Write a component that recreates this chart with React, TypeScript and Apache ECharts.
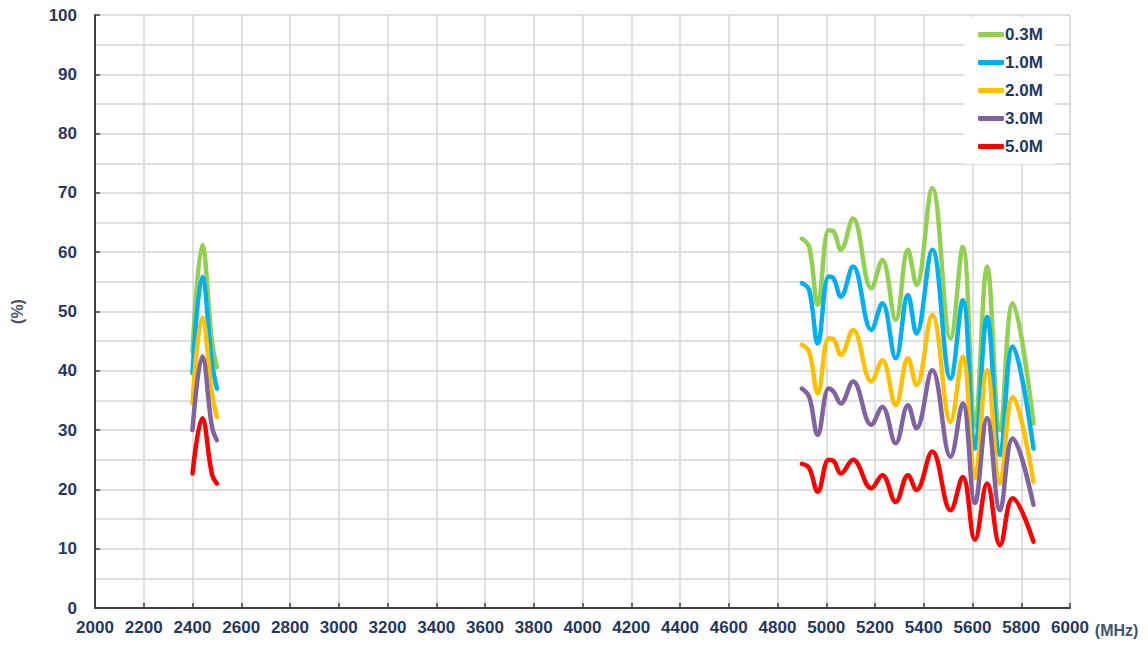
import React, { useEffect, useRef } from "react";
import * as echarts from "echarts";

const seriesNames = ["0.3M", "1.0M", "2.0M", "3.0M", "5.0M"];
const colors = ["#92d050", "#00b0f0", "#ffc000", "#8064a2", "#ff0000"];

const freq24 = [2400, 2440, 2480, 2500];
const green24 = [43.2, 61.2, 45, 40.6];
const blue24 = [39.6, 55.8, 41.3, 37];
const orange24 = [34.5, 49, 36.2, 32.2];
const purple24 = [30, 42.4, 30.5, 28.3];
const red24 = [22.7, 32, 22.5, 21];

const freq5 = [4900, 4930, 4965, 5010, 5030, 5060, 5110, 5185, 5230, 5285, 5335, 5370, 5435, 5510, 5560, 5610, 5660, 5713, 5765, 5850];
const green5 = [62.3, 60.9, 51.1, 63.7, 63.5, 60.4, 65.7, 53.9, 58.7, 48.6, 60.4, 54.5, 70.8, 45.5, 60.9, 30.6, 57.6, 30, 51.4, 31.1];
const blue5 = [54.8, 53.6, 44.6, 55.9, 55.6, 52.5, 57.6, 46.9, 51.4, 42.1, 52.8, 46.3, 60.4, 38.7, 51.9, 26.9, 49.1, 25.8, 44.1, 26.9];
const orange5 = [44.4, 43.2, 36.2, 45.5, 45.3, 42.7, 46.9, 38.2, 41.8, 34.2, 42.1, 37.6, 49.4, 31.4, 42.4, 21.9, 40.1, 21, 35.6, 21.3];
const purple5 = [37, 35.6, 29.2, 37, 36.5, 34.5, 38.2, 30.9, 33.9, 27.8, 34.2, 30.3, 40.1, 25.5, 34.5, 17.7, 32, 16.5, 28.6, 17.4];
const red5 = [24.3, 23.6, 19.6, 25, 24.8, 22.7, 25, 20.2, 22.4, 17.9, 22.4, 19.9, 26.4, 16.5, 22.1, 11.5, 21, 10.6, 18.5, 11.2];

const values24 = [green24, blue24, orange24, purple24, red24];
const values5 = [green5, blue5, orange5, purple5, red5];

const FONT = "'Liberation Sans', Arial, sans-serif";
const NAVY = "#1f3864";

export default function App() {
  const ref = useRef<HTMLDivElement>(null);
  useEffect(() => {
    document.body.style.margin = "0";
    if (!ref.current) return;
    const chart = echarts.init(ref.current, null, { renderer: "svg" });
    const series: any[] = [];
    seriesNames.forEach((name, i) => {
      const common = {
        name,
        type: "line",
        smooth: 0.4,
        showSymbol: false,
        symbol: "none",
        color: colors[i],
        lineStyle: { width: 4.5, color: colors[i], cap: "round", join: "round" },
      };
      series.push({ ...common, data: freq24.map((f, j) => [f, values24[i][j]]) });
      series.push({ ...common, data: freq5.map((f, j) => [f, values5[i][j]]) });
    });
    chart.setOption({
      animation: false,
      backgroundColor: "#ffffff",
      grid: { left: 95, right: 78, top: 15, bottom: 40, containLabel: false },
      legend: {
        data: seriesNames,
        orient: "vertical",
        left: 964,
        top: 17,
        padding: [8, 12, 8, 14],
        backgroundColor: "#ffffff",
        icon: "roundRect",
        itemWidth: 26,
        itemHeight: 5,
        itemGap: 9,
        textStyle: { fontFamily: FONT, fontWeight: "bold", fontSize: 17, color: NAVY, lineHeight: 19, padding: [0, 0, 0, -4] },
      },
      xAxis: {
        type: "value",
        min: 2000,
        max: 6000,
        interval: 200,
        name: "(MHz)",
        nameLocation: "end",
        nameGap: 22,
        nameTextStyle: { fontFamily: FONT, fontWeight: "bold", fontSize: 16, color: "#44546a", verticalAlign: "top", padding: [14, 0, 0, 0] },
        axisLine: { show: true, lineStyle: { color: "#404040", width: 2 } },
        axisTick: { show: true, inside: true, length: 5, lineStyle: { color: "#404040", width: 1.5 } },
        axisLabel: { fontFamily: FONT, fontWeight: "bold", fontSize: 17, color: NAVY, margin: 11, formatter: (v: number) => String(v) },
        splitLine: { show: true, lineStyle: { color: "#d4d4d4", width: 1.5 } },
      },
      yAxis: {
        type: "value",
        min: 0,
        max: 100,
        interval: 10,
        name: "(%)",
        nameLocation: "middle",
        nameGap: 70,
        nameRotate: 90,
        nameTextStyle: { fontFamily: FONT, fontWeight: "bold", fontSize: 16, color: "#44546a" },
        axisLine: { show: true, lineStyle: { color: "#404040", width: 2 } },
        axisTick: { show: true, inside: true, length: 5, lineStyle: { color: "#404040", width: 1.5 } },
        axisLabel: { fontFamily: FONT, fontWeight: "bold", fontSize: 17, color: NAVY, margin: 18 },
        splitLine: { show: true, lineStyle: { color: "#d4d4d4", width: 1.5 } },
        minorTick: { show: false, splitNumber: 2 },
        minorSplitLine: { show: true, lineStyle: { color: "#d4d4d4", width: 1.5 } },
      },
      series,
    });
    return () => chart.dispose();
  }, []);
  return <div ref={ref} style={{ width: 1148, height: 648 }} />;
}
